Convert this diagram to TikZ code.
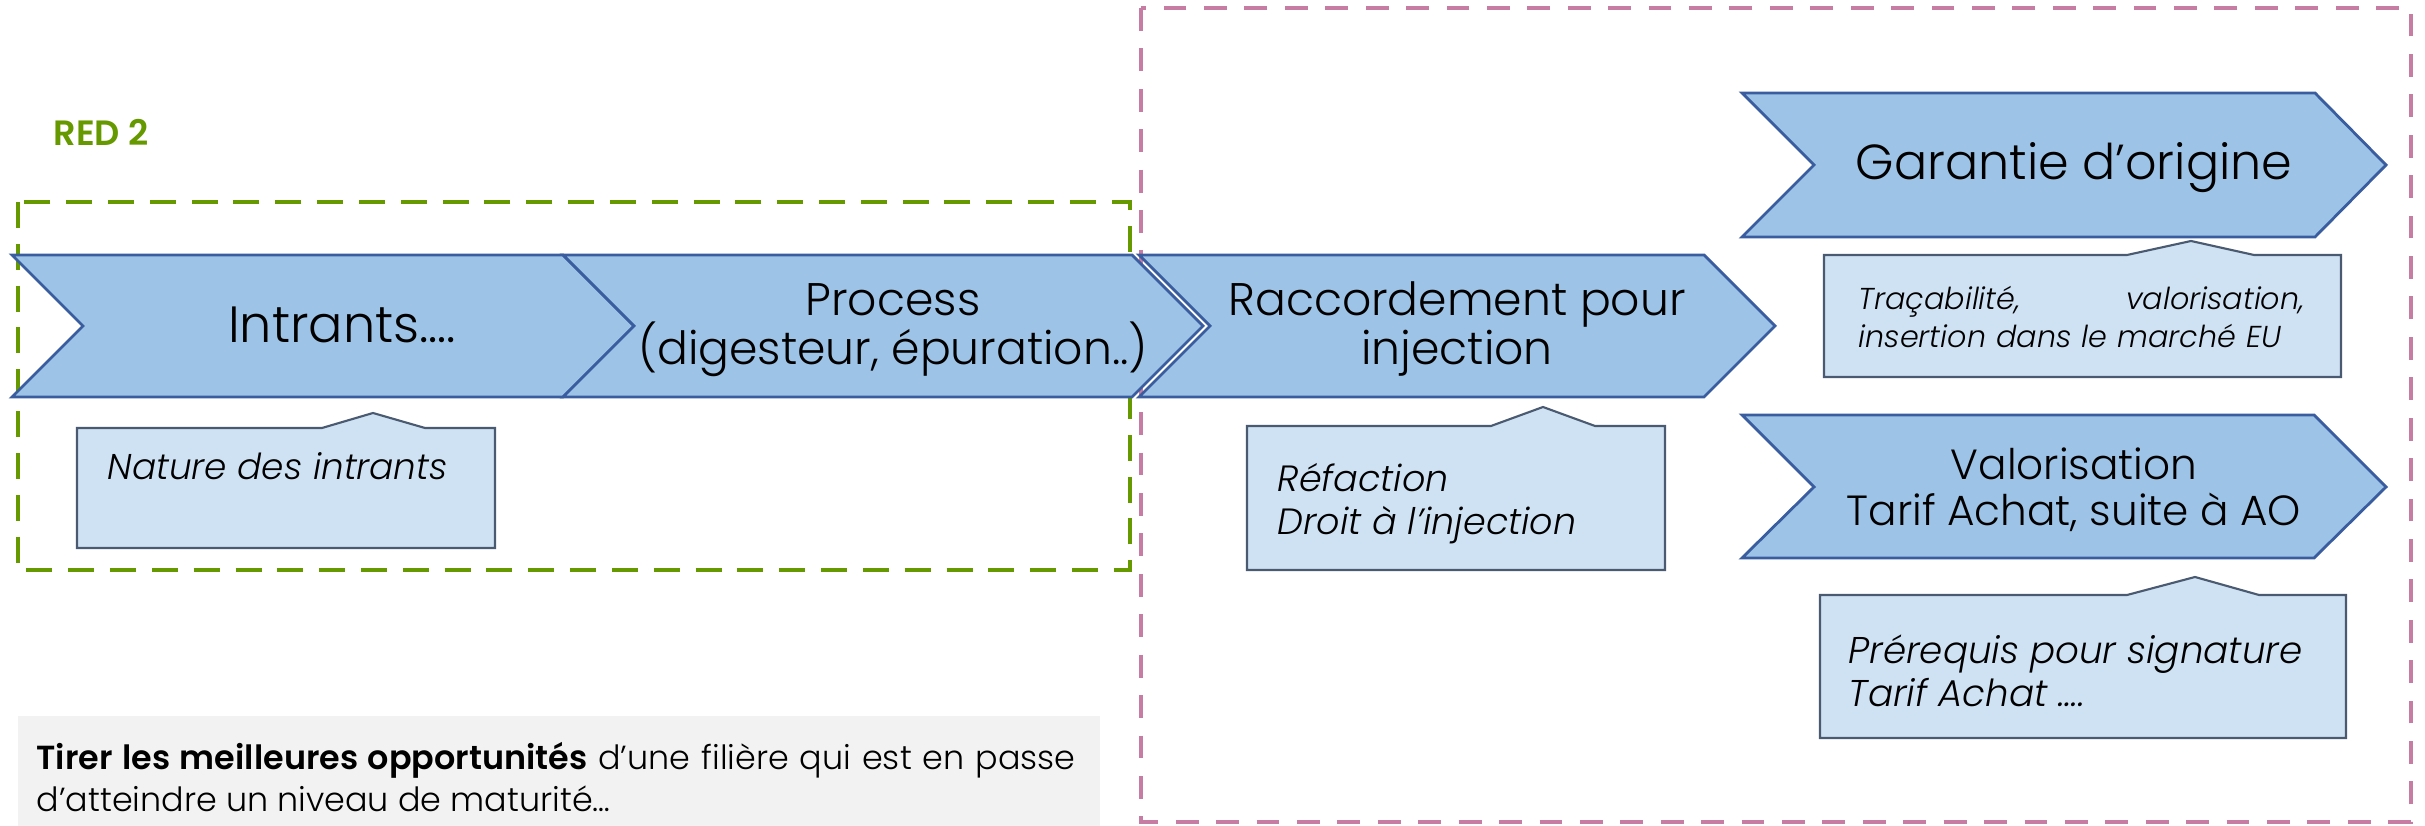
\documentclass[tikz,border=0pt]{standalone}
\usepackage{fontspec}
\setmainfont{Poppins Light}[BoldFont=Poppins SemiBold, ItalicFont=Poppins Light Italic, BoldItalicFont=Poppins SemiBold Italic]
\usepackage{xcolor}
\definecolor{chevfill}{HTML}{9DC3E6}
\definecolor{chevline}{HTML}{3A5DA0}
\definecolor{callfill}{HTML}{CFE2F3}
\definecolor{callline}{HTML}{4A5A70}
\definecolor{redgreen}{HTML}{669900}
\definecolor{scopepink}{HTML}{C77CA3}
\definecolor{notegrey}{HTML}{F2F2F2}

\tikzset{
  chevron/.style={fill=chevfill, draw=chevline, line width=0.8pt, line join=miter},
  chevtext/.style={align=center, inner sep=0pt, anchor=base},
  callout/.style={fill=callfill, draw=callline, line width=0.6pt},
  calltext/.style={align=left, inner sep=0pt, anchor=base west,
    font=\itshape\fontsize{10.2}{12.3}\selectfont},
}

\begin{document}
\begin{tikzpicture}[x=0.1mm, y=-0.1mm]
  \useasboundingbox (0,0) rectangle (2425,826);

  % Draw dashed frames
  \draw[scopepink, line width=1.3pt, dash pattern=on 6.5pt off 5pt] (1141,8) rectangle (2411,822);
  \draw[redgreen, line width=1.4pt, dash pattern=on 7.4pt off 4.5pt] (18,202) rectangle (1130,570);
  \node[redgreen, anchor=base west, inner sep=0pt, font=\bfseries\fontsize{10}{12}\selectfont] (red) at (53,146) {RED 2};

  % Draw main chevrons
  \draw[chevron] (12,255) -- (563,255) -- (634,326) -- (563,397) -- (12,397) -- (83,326) -- cycle;
  \draw[chevron] (563,255) -- (1132,255) -- (1203,326) -- (1132,397) -- (563,397) -- (634,326) -- cycle;
  \draw[chevron] (1139,255) -- (1704,255) -- (1775,326) -- (1704,397) -- (1139,397) -- (1210,326) -- cycle;

  % Draw right chevrons
  \draw[chevron] (1742,93) -- (2315,93) -- (2386,165) -- (2315,237) -- (1742,237) -- (1814,165) -- cycle;
  \draw[chevron] (1742,415) -- (2314,415) -- (2386,487) -- (2314,558) -- (1742,558) -- (1814,487) -- cycle;

  % Label the chevrons (base = last line)
  \node[chevtext, font=\fontsize{14.5}{16}\selectfont] (intrants) at (342,343) {Intrants….};
  \node[chevtext, font=\fontsize{13}{14.2}\selectfont] (process) at (893,365) {Process\\(digesteur, épuration..)};
  \node[chevtext, font=\fontsize{13}{14.2}\selectfont] (raccord) at (1457,365) {Raccordement pour\\injection};
  \node[chevtext, font=\fontsize{14}{16}\selectfont] (garantie) at (2074,180) {Garantie d’origine};
  \node[chevtext, font=\fontsize{12}{13.1}\selectfont] (valor) at (2074,526) {Valorisation\\Tarif Achat, suite à AO};

  % Draw callouts
  \draw[callout] (77,428) -- (322,428) -- (373,413) -- (425,428) -- (495,428) -- (495,548) -- (77,548) -- cycle;
  \draw[callout] (1247,426) -- (1491,426) -- (1543,407) -- (1595,426) -- (1665,426) -- (1665,570) -- (1247,570) -- cycle;
  \draw[callout] (1824,255) -- (2127,255) -- (2191,241) -- (2254,255) -- (2341,255) -- (2341,377) -- (1824,377) -- cycle;
  \draw[callout] (1820,595) -- (2127,595) -- (2195,577) -- (2259,595) -- (2346,595) -- (2346,738) -- (1820,738) -- cycle;

  % Label the callouts
  \node[calltext] (nature) at (107,480) {Nature des intrants};
  \node[calltext, font=\itshape\fontsize{10.4}{12.3}\selectfont] (refaction) at (1277,535) {Réfaction\\Droit à l’injection};
  \node[calltext, text width=44.6mm, font=\itshape\fontsize{8.6}{10.8}\selectfont] (traca) at (1858,310)
    {Traçabilité,\hfill valorisation,\\insertion dans le marché EU};
  \node[calltext, font=\itshape\fontsize{10.6}{12.3}\selectfont] (prerequis) at (1848,707) {Prérequis pour signature\\Tarif Achat ….};

  % Draw note
  \fill[notegrey] (18,716) rectangle (1100,826);
  \node[anchor=base west, inner sep=0pt, text width=103.9mm, align=justify, font=\fontsize{9.5}{11.9}\selectfont] (note) at (36,770)
    {\textbf{Tirer les meilleures opportunités} d’une filière qui est en passe\linebreak d’atteindre un niveau de maturité…};

\end{tikzpicture}
\end{document}
